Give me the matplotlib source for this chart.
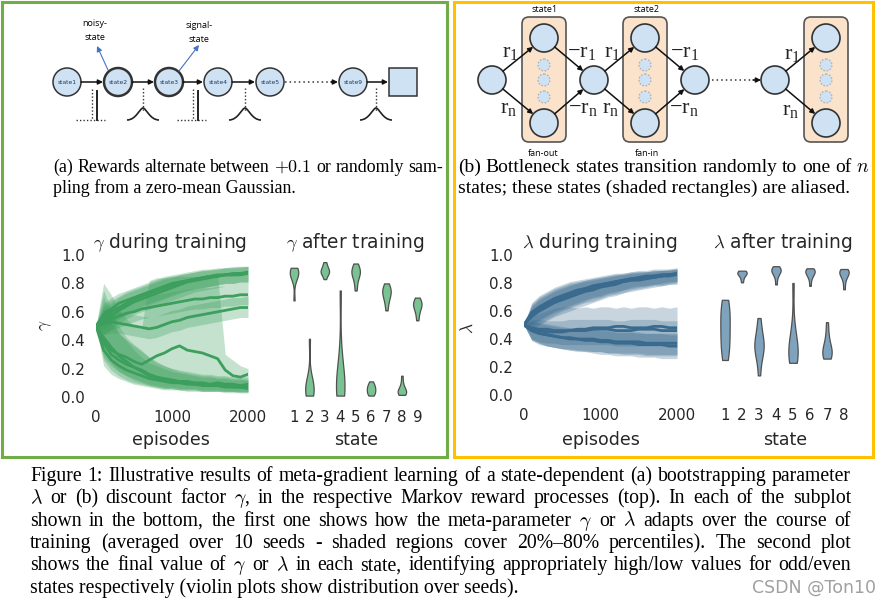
import matplotlib
matplotlib.use('Agg')
import matplotlib.pyplot as plt
from matplotlib.patches import Circle, Rectangle, FancyBboxPatch, PathPatch
from matplotlib.path import Path

plt.rcParams['mathtext.fontset'] = 'cm'
plt.rcParams['font.family'] = 'DejaVu Sans'

W, H = 893, 606

# ---------------- data ----------------
episodes = list(range(0, 2001, 100))

# gamma during training, states 1..9 (mean and 20%/80% band)
gamma_mean = [
    [0.50, 0.58, 0.62, 0.66, 0.68, 0.70, 0.72, 0.74, 0.76, 0.78, 0.80, 0.81, 0.82, 0.83, 0.84, 0.85, 0.86, 0.86, 0.87, 0.87, 0.88],
    [0.50, 0.33, 0.26, 0.22, 0.19, 0.17, 0.15, 0.13, 0.12, 0.11, 0.10, 0.10, 0.09, 0.09, 0.08, 0.08, 0.08, 0.07, 0.07, 0.07, 0.06],
    [0.50, 0.55, 0.60, 0.63, 0.66, 0.69, 0.71, 0.73, 0.75, 0.77, 0.79, 0.80, 0.82, 0.83, 0.84, 0.85, 0.85, 0.86, 0.86, 0.87, 0.87],
    [0.50, 0.40, 0.33, 0.30, 0.28, 0.25, 0.23, 0.26, 0.29, 0.31, 0.34, 0.36, 0.33, 0.32, 0.31, 0.29, 0.27, 0.19, 0.15, 0.14, 0.16],
    [0.50, 0.53, 0.57, 0.61, 0.64, 0.67, 0.69, 0.71, 0.73, 0.75, 0.77, 0.79, 0.81, 0.82, 0.83, 0.84, 0.85, 0.86, 0.86, 0.86, 0.87],
    [0.50, 0.38, 0.30, 0.26, 0.23, 0.21, 0.19, 0.16, 0.14, 0.13, 0.12, 0.11, 0.11, 0.10, 0.10, 0.09, 0.10, 0.09, 0.09, 0.08, 0.09],
    [0.50, 0.52, 0.55, 0.57, 0.59, 0.60, 0.62, 0.63, 0.64, 0.65, 0.66, 0.67, 0.68, 0.69, 0.69, 0.70, 0.70, 0.71, 0.71, 0.72, 0.72],
    [0.50, 0.42, 0.35, 0.29, 0.25, 0.21, 0.18, 0.15, 0.13, 0.12, 0.11, 0.10, 0.10, 0.09, 0.09, 0.08, 0.08, 0.08, 0.07, 0.07, 0.07],
    [0.50, 0.53, 0.53, 0.52, 0.51, 0.50, 0.49, 0.48, 0.49, 0.51, 0.53, 0.54, 0.56, 0.57, 0.58, 0.59, 0.60, 0.61, 0.62, 0.63, 0.63],
]
gamma_lo = [
    [0.50, 0.50, 0.52, 0.56, 0.58, 0.61, 0.64, 0.66, 0.68, 0.70, 0.72, 0.74, 0.75, 0.76, 0.77, 0.78, 0.79, 0.80, 0.80, 0.81, 0.81],
    [0.50, 0.22, 0.16, 0.13, 0.11, 0.09, 0.08, 0.07, 0.06, 0.05, 0.05, 0.05, 0.04, 0.04, 0.04, 0.04, 0.04, 0.03, 0.03, 0.03, 0.03],
    [0.50, 0.47, 0.52, 0.55, 0.58, 0.61, 0.63, 0.65, 0.67, 0.69, 0.71, 0.73, 0.75, 0.76, 0.77, 0.78, 0.79, 0.80, 0.80, 0.81, 0.81],
    [0.50, 0.28, 0.22, 0.18, 0.15, 0.13, 0.11, 0.09, 0.08, 0.07, 0.07, 0.06, 0.06, 0.06, 0.05, 0.05, 0.05, 0.04, 0.04, 0.04, 0.04],
    [0.50, 0.44, 0.48, 0.52, 0.55, 0.58, 0.60, 0.62, 0.64, 0.66, 0.68, 0.70, 0.72, 0.74, 0.75, 0.76, 0.77, 0.78, 0.79, 0.79, 0.80],
    [0.50, 0.26, 0.19, 0.15, 0.12, 0.10, 0.09, 0.08, 0.07, 0.06, 0.06, 0.05, 0.05, 0.05, 0.04, 0.04, 0.04, 0.04, 0.04, 0.03, 0.03],
    [0.50, 0.44, 0.47, 0.49, 0.51, 0.53, 0.55, 0.56, 0.57, 0.58, 0.59, 0.60, 0.61, 0.62, 0.62, 0.63, 0.63, 0.64, 0.64, 0.65, 0.65],
    [0.50, 0.32, 0.24, 0.18, 0.15, 0.12, 0.10, 0.08, 0.07, 0.06, 0.06, 0.05, 0.05, 0.05, 0.04, 0.04, 0.04, 0.04, 0.04, 0.04, 0.04],
    [0.50, 0.44, 0.45, 0.45, 0.44, 0.43, 0.42, 0.41, 0.42, 0.44, 0.46, 0.47, 0.49, 0.50, 0.51, 0.52, 0.53, 0.54, 0.55, 0.56, 0.56],
]
gamma_hi = [
    [0.50, 0.66, 0.70, 0.73, 0.75, 0.77, 0.79, 0.81, 0.83, 0.85, 0.86, 0.87, 0.88, 0.89, 0.90, 0.90, 0.91, 0.91, 0.92, 0.92, 0.92],
    [0.50, 0.70, 0.58, 0.45, 0.40, 0.33, 0.28, 0.24, 0.22, 0.20, 0.18, 0.17, 0.16, 0.15, 0.14, 0.14, 0.13, 0.13, 0.12, 0.12, 0.12],
    [0.50, 0.64, 0.68, 0.71, 0.74, 0.76, 0.78, 0.80, 0.82, 0.84, 0.85, 0.86, 0.87, 0.88, 0.89, 0.90, 0.90, 0.91, 0.91, 0.92, 0.92],
    [0.50, 0.80, 0.72, 0.62, 0.55, 0.50, 0.48, 0.82, 0.84, 0.84, 0.85, 0.85, 0.85, 0.85, 0.85, 0.85, 0.85, 0.30, 0.26, 0.22, 0.20],
    [0.50, 0.62, 0.66, 0.70, 0.73, 0.75, 0.77, 0.79, 0.81, 0.83, 0.84, 0.86, 0.87, 0.88, 0.89, 0.89, 0.90, 0.91, 0.91, 0.91, 0.92],
    [0.50, 0.75, 0.62, 0.50, 0.42, 0.37, 0.33, 0.28, 0.24, 0.22, 0.20, 0.19, 0.18, 0.17, 0.16, 0.16, 0.15, 0.15, 0.14, 0.14, 0.14],
    [0.50, 0.61, 0.63, 0.65, 0.67, 0.68, 0.69, 0.71, 0.72, 0.73, 0.74, 0.75, 0.76, 0.76, 0.77, 0.77, 0.78, 0.78, 0.79, 0.79, 0.80],
    [0.50, 0.60, 0.52, 0.45, 0.40, 0.36, 0.32, 0.28, 0.25, 0.22, 0.20, 0.18, 0.17, 0.16, 0.15, 0.15, 0.14, 0.14, 0.13, 0.13, 0.12],
    [0.50, 0.62, 0.61, 0.60, 0.59, 0.58, 0.57, 0.56, 0.57, 0.59, 0.61, 0.62, 0.64, 0.65, 0.66, 0.67, 0.68, 0.69, 0.70, 0.70, 0.71],
]

# lambda during training, states 1..8
lam_mean = [
    [0.50, 0.48, 0.47, 0.47, 0.46, 0.46, 0.46, 0.47, 0.47, 0.48, 0.48, 0.48, 0.49, 0.49, 0.48, 0.48, 0.48, 0.49, 0.49, 0.48, 0.48],
    [0.50, 0.58, 0.62, 0.65, 0.68, 0.70, 0.72, 0.74, 0.76, 0.77, 0.78, 0.79, 0.81, 0.82, 0.83, 0.83, 0.84, 0.85, 0.85, 0.86, 0.86],
    [0.50, 0.46, 0.44, 0.43, 0.42, 0.41, 0.40, 0.40, 0.39, 0.39, 0.38, 0.38, 0.37, 0.37, 0.37, 0.36, 0.36, 0.36, 0.36, 0.35, 0.35],
    [0.50, 0.57, 0.61, 0.64, 0.67, 0.69, 0.71, 0.73, 0.75, 0.76, 0.78, 0.79, 0.80, 0.81, 0.82, 0.83, 0.84, 0.84, 0.85, 0.86, 0.86],
    [0.50, 0.47, 0.46, 0.45, 0.45, 0.45, 0.46, 0.46, 0.46, 0.47, 0.47, 0.47, 0.46, 0.46, 0.46, 0.47, 0.47, 0.47, 0.46, 0.46, 0.46],
    [0.50, 0.59, 0.63, 0.66, 0.69, 0.71, 0.73, 0.75, 0.76, 0.78, 0.79, 0.80, 0.81, 0.82, 0.83, 0.84, 0.85, 0.85, 0.86, 0.86, 0.87],
    [0.50, 0.46, 0.44, 0.43, 0.42, 0.41, 0.41, 0.40, 0.40, 0.40, 0.39, 0.39, 0.38, 0.38, 0.38, 0.38, 0.37, 0.37, 0.37, 0.37, 0.37],
    [0.50, 0.56, 0.60, 0.63, 0.66, 0.68, 0.70, 0.72, 0.74, 0.75, 0.77, 0.78, 0.79, 0.81, 0.82, 0.82, 0.83, 0.84, 0.85, 0.85, 0.86],
]
lam_lo = [
    [0.50, 0.40, 0.37, 0.35, 0.34, 0.33, 0.32, 0.32, 0.31, 0.31, 0.31, 0.30, 0.30, 0.30, 0.30, 0.30, 0.29, 0.29, 0.29, 0.29, 0.29],
    [0.50, 0.50, 0.53, 0.56, 0.59, 0.61, 0.63, 0.65, 0.67, 0.69, 0.70, 0.72, 0.73, 0.75, 0.76, 0.77, 0.78, 0.79, 0.79, 0.80, 0.81],
    [0.50, 0.39, 0.36, 0.35, 0.34, 0.33, 0.32, 0.31, 0.31, 0.30, 0.29, 0.29, 0.28, 0.28, 0.28, 0.27, 0.27, 0.27, 0.26, 0.26, 0.26],
    [0.50, 0.48, 0.51, 0.54, 0.57, 0.60, 0.62, 0.64, 0.66, 0.67, 0.69, 0.71, 0.72, 0.73, 0.75, 0.76, 0.77, 0.78, 0.78, 0.79, 0.80],
    [0.50, 0.40, 0.38, 0.37, 0.37, 0.36, 0.36, 0.36, 0.36, 0.36, 0.36, 0.36, 0.35, 0.35, 0.35, 0.35, 0.35, 0.35, 0.35, 0.34, 0.34],
    [0.50, 0.51, 0.54, 0.57, 0.60, 0.62, 0.64, 0.66, 0.68, 0.70, 0.71, 0.73, 0.74, 0.75, 0.77, 0.78, 0.78, 0.79, 0.80, 0.81, 0.81],
    [0.50, 0.39, 0.37, 0.35, 0.34, 0.33, 0.33, 0.32, 0.32, 0.31, 0.31, 0.30, 0.30, 0.29, 0.29, 0.29, 0.28, 0.28, 0.28, 0.28, 0.28],
    [0.50, 0.47, 0.50, 0.53, 0.56, 0.58, 0.60, 0.62, 0.64, 0.66, 0.68, 0.70, 0.71, 0.73, 0.74, 0.75, 0.76, 0.77, 0.78, 0.79, 0.79],
]
lam_hi = [
    [0.50, 0.56, 0.58, 0.60, 0.62, 0.63, 0.63, 0.62, 0.63, 0.62, 0.63, 0.63, 0.62, 0.63, 0.62, 0.63, 0.63, 0.62, 0.63, 0.62, 0.63],
    [0.50, 0.65, 0.70, 0.73, 0.76, 0.78, 0.80, 0.81, 0.82, 0.83, 0.84, 0.85, 0.86, 0.87, 0.88, 0.88, 0.88, 0.89, 0.89, 0.90, 0.90],
    [0.50, 0.53, 0.52, 0.51, 0.50, 0.49, 0.48, 0.48, 0.47, 0.47, 0.46, 0.46, 0.45, 0.45, 0.45, 0.44, 0.44, 0.44, 0.44, 0.43, 0.43],
    [0.50, 0.64, 0.69, 0.72, 0.75, 0.77, 0.79, 0.80, 0.82, 0.83, 0.84, 0.85, 0.86, 0.86, 0.87, 0.88, 0.88, 0.89, 0.89, 0.89, 0.90],
    [0.50, 0.54, 0.54, 0.53, 0.53, 0.53, 0.54, 0.54, 0.54, 0.54, 0.54, 0.54, 0.53, 0.53, 0.54, 0.54, 0.54, 0.54, 0.53, 0.53, 0.53],
    [0.50, 0.66, 0.71, 0.74, 0.77, 0.79, 0.81, 0.82, 0.83, 0.84, 0.85, 0.86, 0.87, 0.87, 0.88, 0.89, 0.89, 0.90, 0.90, 0.90, 0.91],
    [0.50, 0.52, 0.51, 0.50, 0.49, 0.48, 0.48, 0.47, 0.47, 0.47, 0.46, 0.46, 0.45, 0.45, 0.45, 0.45, 0.44, 0.44, 0.44, 0.44, 0.44],
    [0.50, 0.63, 0.68, 0.71, 0.74, 0.76, 0.78, 0.80, 0.81, 0.82, 0.83, 0.84, 0.85, 0.86, 0.87, 0.87, 0.88, 0.88, 0.89, 0.89, 0.90],
]

# final values per state over the 10 seeds
gamma_states = [1, 2, 3, 4, 5, 6, 7, 8, 9]
gamma_final = [
    [0.68, 0.82, 0.85, 0.86, 0.87, 0.88, 0.88, 0.89, 0.90, 0.91],
    [0.01, 0.02, 0.03, 0.04, 0.05, 0.06, 0.08, 0.10, 0.14, 0.41],
    [0.83, 0.86, 0.87, 0.88, 0.88, 0.89, 0.90, 0.91, 0.93, 0.95],
    [0.01, 0.02, 0.03, 0.05, 0.07, 0.09, 0.12, 0.18, 0.30, 0.75],
    [0.75, 0.80, 0.84, 0.86, 0.87, 0.88, 0.89, 0.90, 0.92, 0.94],
    [0.01, 0.02, 0.03, 0.04, 0.05, 0.06, 0.07, 0.08, 0.09, 0.11],
    [0.61, 0.66, 0.69, 0.71, 0.73, 0.74, 0.75, 0.76, 0.78, 0.80],
    [0.015, 0.02, 0.03, 0.035, 0.04, 0.045, 0.05, 0.07, 0.10, 0.15],
    [0.54, 0.58, 0.61, 0.63, 0.64, 0.65, 0.66, 0.67, 0.68, 0.70],
]
lam_states = [1, 2, 3, 4, 5, 6, 7, 8]
lam_final = [
    [0.25, 0.30, 0.35, 0.40, 0.45, 0.50, 0.55, 0.60, 0.64, 0.68],
    [0.805, 0.83, 0.85, 0.86, 0.865, 0.87, 0.875, 0.88, 0.885, 0.888],
    [0.14, 0.25, 0.30, 0.33, 0.35, 0.36, 0.38, 0.42, 0.48, 0.55],
    [0.79, 0.84, 0.86, 0.88, 0.885, 0.89, 0.895, 0.90, 0.91, 0.92],
    [0.23, 0.25, 0.27, 0.29, 0.31, 0.33, 0.36, 0.40, 0.50, 0.80],
    [0.78, 0.83, 0.85, 0.87, 0.875, 0.88, 0.885, 0.89, 0.90, 0.905],
    [0.26, 0.27, 0.28, 0.30, 0.31, 0.33, 0.35, 0.38, 0.44, 0.52],
    [0.755, 0.81, 0.84, 0.86, 0.87, 0.875, 0.88, 0.885, 0.89, 0.90],
]

GREEN = '#3c9f5d'
GREEN_V = '#79c393'
BLUE = '#3a6b8e'
BLUE_V = '#7fa3bd'
TXT = '#262626'
NODE = '#cfe2f3'

fig = plt.figure(figsize=(W / 100, H / 100), dpi=100)
bg = fig.add_axes([0, 0, 1, 1])
bg.set_xlim(0, W)
bg.set_ylim(H, 0)
bg.axis('off')
renderer = fig.canvas.get_renderer()


def px_axes(x0, y0, x1, y1):
    return fig.add_axes([x0 / W, 1 - y1 / H, (x1 - x0) / W, (y1 - y0) / H])


def style(ax):
    for s in ax.spines.values():
        s.set_visible(False)
    ax.set_facecolor('none')
    ax.tick_params(length=0, labelsize=10.8, colors=TXT)


def training(ax, means, los, his, color, alpha):
    for m, lo, hi in zip(means, los, his):
        ax.fill_between(episodes, lo, hi, color=color, alpha=alpha, lw=0)
        ax.plot(episodes, m, color=color, lw=2)
    ax.set_xlim(0, 2000)
    ax.set_ylim(0, 1)
    ax.set_xticks([0, 1000, 2000])
    yt = [0.0, 0.2, 0.4, 0.6, 0.8, 1.0]
    ax.set_yticks(yt)
    ax.set_yticklabels([f'{v:.1f}' for v in yt])
    style(ax)
    ax.tick_params(axis='y', pad=8)
    ax.tick_params(axis='x', pad=9)


def violins(ax, states, finals, color):
    parts = ax.violinplot(finals, positions=states, widths=0.55, showextrema=False)
    for b in parts['bodies']:
        b.set_facecolor(color)
        b.set_edgecolor('#505050')
        b.set_linewidth(0.9)
        b.set_alpha(1)
    ax.set_xlim(states[0] - 0.5, states[-1] + 0.5)
    ax.set_ylim(0, 1)
    ax.set_xticks(states)
    ax.set_yticks([])
    style(ax)
    ax.tick_params(axis='x', pad=9)


# ---------------- bottom plots ----------------
ax1 = px_axes(96, 255, 248, 397)
training(ax1, gamma_mean, gamma_lo, gamma_hi, GREEN, 0.3)
ax2 = px_axes(286.3, 255, 425, 397)
violins(ax2, gamma_states, gamma_final, GREEN_V)
ax3 = px_axes(524, 255, 677, 395)
training(ax3, lam_mean, lam_lo, lam_hi, BLUE, 0.28)
ax4 = px_axes(716.5, 255, 852.5, 395)
violins(ax4, lam_states, lam_final, BLUE_V)

for x, s in [(170, r'$\gamma$ during training'), (355, r'$\gamma$ after training'),
             (600, r'$\lambda$ during training'), (783, r'$\lambda$ after training')]:
    bg.text(x, 242, s, fontsize=13.4, color=TXT, ha='center', va='center')
for x, s in [(171, 'episodes'), (356, 'state'), (601, 'episodes'), (785, 'state')]:
    bg.text(x, 440, s, fontsize=12.5, color=TXT, ha='center', va='center')
bg.text(45, 325, r'$\gamma$', fontsize=12.5, color=TXT, ha='center', va='center', rotation=90)
bg.text(468, 328, r'$\lambda$', fontsize=12.5, color=TXT, ha='center', va='center', rotation=90)

# ---------------- panel borders ----------------
bg.add_patch(Rectangle((2, 2), 445, 455, fill=False, ec='#70ad47', lw=2.2))
bg.add_patch(Rectangle((454, 2), 419, 455, fill=False, ec='#ffc000', lw=2.2))


def arrow(p0, p1, color='#111111', lw=1.1, ms=7):
    bg.annotate('', xy=p1, xytext=p0,
                arrowprops=dict(arrowstyle='-|>', color=color, lw=lw,
                                mutation_scale=ms, shrinkA=0, shrinkB=0))


# ---------------- diagram (a) ----------------
ya = 82
chain_x = [67, 118, 169, 218, 270, 353]
chain_lab = ['state1', 'state2', 'state3', 'state4', 'state5', 'state9']
for x, lab in zip(chain_x, chain_lab):
    thick = lab in ('state2', 'state3')
    bg.add_patch(Circle((x, ya), 14, fc=NODE, ec='#333333', lw=1.8 if thick else 1.1))
    bg.text(x, ya, lab, fontsize=4.3, color='#1f3864', ha='center', va='center')
bg.add_patch(Rectangle((389, 68), 28, 28, fc=NODE, ec='#333333', lw=1.1))
for a, b in [(81, 103), (132, 154), (183, 203), (232, 255), (367, 388)]:
    arrow((a, ya), (b, ya))
bg.plot([285, 332], [ya, ya], color='#333333', lw=1.1, ls=(0, (1, 2)))
arrow((331, ya), (338, ya))

# reward sketches under the arrows
for cx in [92, 193]:
    bg.plot([cx, cx], [89, 120], color='#333333', lw=1, ls=(0, (1, 1.5)))
    bg.plot([cx - 16, cx + 13], [120, 120], color='#333333', lw=1, ls=(0, (1, 1.5)))
    bg.plot([cx + 5, cx + 5], [91, 120], color='#222222', lw=1.4)
for cx in [143, 245, 376]:
    bg.plot([cx, cx], [88, 112], color='#333333', lw=1, ls=(0, (1, 1.5)))
    bump = Path([(cx - 16, 120), (cx - 7, 120), (cx - 3, 108), (cx, 108),
                 (cx + 3, 108), (cx + 7, 120), (cx + 16, 120)],
                [Path.MOVETO, Path.CURVE4, Path.CURVE4, Path.CURVE4,
                 Path.CURVE4, Path.CURVE4, Path.CURVE4])
    bg.add_patch(PathPatch(bump, fill=False, ec='#222222', lw=1.2))

arrow((108, 70), (97, 46), color='#4472c4', lw=0.8, ms=8)
arrow((179, 71), (199, 45), color='#4472c4', lw=0.8, ms=8)
bg.text(95, 24, 'noisy-', fontsize=6.5, family='Open Sans', ha='center', va='center')
bg.text(95, 38, 'state', fontsize=6.5, family='Open Sans', ha='center', va='center')
bg.text(199, 26, 'signal-', fontsize=6.5, family='Open Sans', ha='center', va='center')
bg.text(199, 40, 'state', fontsize=6.5, family='Open Sans', ha='center', va='center')

# ---------------- diagram (b) ----------------
yb = 80
for bx in [522, 623, 804]:
    bg.add_patch(FancyBboxPatch((bx, 17), 44, 125, boxstyle='round,pad=0,rounding_size=7',
                                fc='#fbe3cb', ec='#555555', lw=1.2))
    cx = bx + 22
    for y in [65, 80, 97]:
        bg.add_patch(Circle((cx, y), 6, fc=NODE, ec='#aaaaaa', lw=0.8, ls=(0, (1.5, 1.5))))
    for y in [38, 123]:
        bg.add_patch(Circle((cx, y), 14, fc=NODE, ec='#333333', lw=1.2))
for x in [492, 594, 695, 775]:
    bg.add_patch(Circle((x, yb), 14, fc=NODE, ec='#333333', lw=1.2))


def link(c0, c1, r=14):
    dx, dy = c1[0] - c0[0], c1[1] - c0[1]
    d = (dx * dx + dy * dy) ** 0.5
    arrow((c0[0] + r * dx / d, c0[1] + r * dy / d),
          (c1[0] - r * dx / d, c1[1] - r * dy / d), lw=1.1, ms=7)


for a, b in [((492, yb), (544, 38)), ((492, yb), (544, 123)),
             ((544, 38), (594, yb)), ((544, 123), (594, yb)),
             ((594, yb), (645, 38)), ((594, yb), (645, 123)),
             ((645, 38), (695, yb)), ((645, 123), (695, yb)),
             ((775, yb), (826, 38)), ((775, yb), (826, 123))]:
    link(a, b)
bg.plot([712, 754], [yb, yb], color='#333333', lw=1.1, ls=(0, (1, 2)))
arrow((753, yb), (761, yb))

for x, y, s in [(510, 52, r'$\mathregular{r_1}$'), (509, 108, r'$\mathregular{r_n}$'),
                (582, 52, r'$\mathregular{-r_1}$'), (583, 108, r'$\mathregular{-r_n}$'),
                (612, 52, r'$\mathregular{r_1}$'), (611, 108, r'$\mathregular{r_n}$'),
                (685, 52, r'$\mathregular{-r_1}$'), (684, 108, r'$\mathregular{-r_n}$'),
                (792, 54, r'$\mathregular{r_1}$'), (791, 110, r'$\mathregular{r_n}$')]:
    bg.text(x, y, s, fontsize=16, family='Liberation Serif', color='#222222',
            ha='center', va='center')
for x, y, s in [(545, 10, 'state1'), (647, 10, 'state2'), (543, 153, 'fan-out'), (647, 154, 'fan-in')]:
    bg.text(x, y, s, fontsize=6.5, family='Open Sans', ha='center', va='center')

# ---------------- captions ----------------
SERIF = 'Liberation Serif'


def put_line(x0, x1, y, line, size, justify=True):
    if not justify:
        bg.text(x0, y, line, fontsize=size, family=SERIF, ha='left', va='baseline')
        return size
    words = line.split(' ')
    texts = [bg.text(0, y, w, fontsize=size, family=SERIF, ha='left', va='baseline') for w in words]
    while True:
        widths = [t.get_window_extent(renderer).width for t in texts]
        gap = (x1 - x0 - sum(widths)) / (len(words) - 1)
        if gap >= 0.24 * size * 100 / 72:
            break
        size -= 0.1
        for t in texts:
            t.set_fontsize(size)
    x = x0
    for t, w in zip(texts, widths):
        t.set_x(x)
        x += w + gap
    return size


sa = put_line(53, 443, 172, r'(a) Rewards alternate between $+0.1$ or randomly sam-', 14)
put_line(53, 443, 193, 'pling from a zero-mean Gaussian.', sa, justify=False)
sb = put_line(458, 869, 172, r'(b) Bottleneck states transition randomly to one of $n$', 14)
put_line(458, 869, 193, 'states; these states (shaded rectangles) are aliased.', sb, justify=False)

caption = [
    'Figure 1: Illustrative results of meta-gradient learning of a state-dependent (a) bootstrapping parameter',
    r'$\lambda$ or (b) discount factor $\gamma$, in the respective Markov reward processes (top). In each of the subplot',
    r'shown in the bottom, the first one shows how the meta-parameter $\gamma$ or $\lambda$ adapts over the course of',
    'training (averaged over 10 seeds - shaded regions cover 20%\u201380% percentiles). The second plot',
    r'shows the final value of $\gamma$ or $\lambda$ in each state, identifying appropriately high/low values for odd/even',
    'states respectively (violin plots show distribution over seeds).',
]
for i, line in enumerate(caption):
    put_line(30, 851, 481 + 22.3 * i, line, 14.2, justify=(i < len(caption) - 1))

bg.text(876, 593, 'CSDN @Ton10', fontsize=12.5, color='#a0a0a0', ha='right', va='baseline')

fig.savefig('out.png', dpi=100)
